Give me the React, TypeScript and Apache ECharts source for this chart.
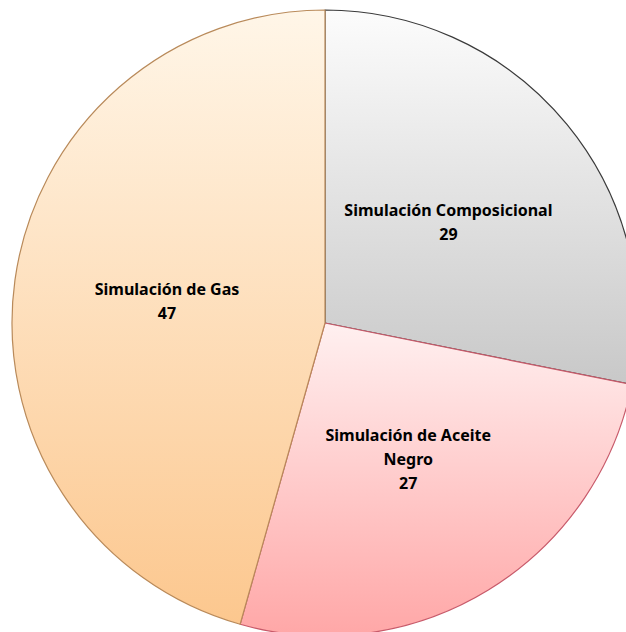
import React, { useEffect, useRef } from "react";
import * as echarts from "echarts";

const categories = ["Simulación Composicional", "Simulación de Aceite\nNegro", "Simulación de Gas"];
const values = [29, 27, 47];

export default function App() {
  const ref = useRef<HTMLDivElement>(null);
  useEffect(() => {
    document.body.style.margin = "0";
    const chart = echarts.init(ref.current!, null, { renderer: "svg" });
    const grad = (y1: number, y2: number, c1: string, c2: string) =>
      new echarts.graphic.LinearGradient(0, y1, 0, y2, [
        { offset: 0, color: c1 },
        { offset: 1, color: c2 },
      ], true);
    const styles = [
      { color: grad(10, 400, "#fcfcfc", "#c6c6c6"), borderColor: "#3a3a3a" },
      { color: grad(323, 640, "#fff0f0", "#ffa6a6"), borderColor: "#c85a6a" },
      { color: grad(10, 640, "#fff6e8", "#fcc68c"), borderColor: "#b98a5a" },
    ];
    chart.setOption({
      animation: false,
      backgroundColor: "#ffffff",
      series: [
        {
          type: "pie",
          center: [325, 323],
          radius: 313,
          startAngle: 90,
          clockwise: true,
          label: {
            show: true,
            position: "inside",
            formatter: "{b}\n{c}",
            color: "#000",
            fontFamily: "Noto Sans",
            fontWeight: "bold",
            fontSize: 16,
            lineHeight: 24,
            align: "center",
          },
          labelLine: { show: false },
          itemStyle: { borderWidth: 1.2 },
          data: categories.map((name, i) => ({
            name,
            value: values[i],
            itemStyle: styles[i],
          })),
        },
      ],
    });
    return () => chart.dispose();
  }, []);
  return <div ref={ref} style={{ width: 626, height: 632 }} />;
}
